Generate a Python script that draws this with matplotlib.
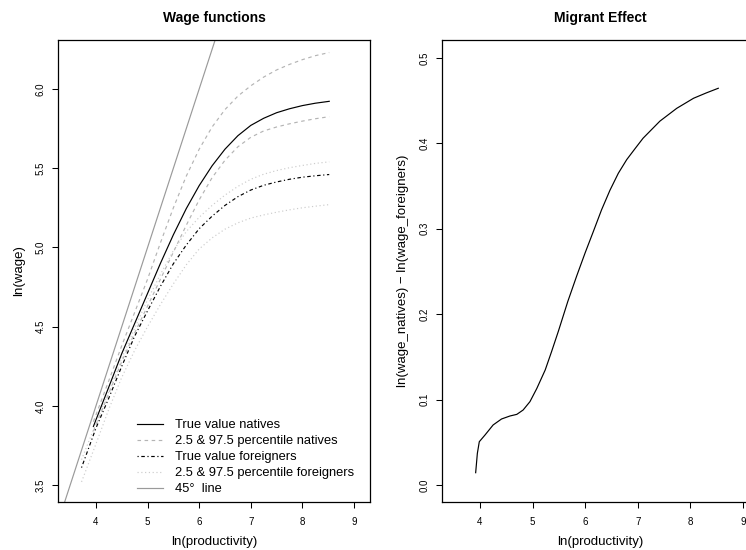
import matplotlib
matplotlib.use("Agg")
import matplotlib.pyplot as plt

plt.rcParams['font.family'] = ['Liberation Sans', 'DejaVu Sans']

# ---------------- data ----------------
x_nat = [3.95, 4.25, 4.5, 4.75, 5.0, 5.25, 5.5, 5.75, 6.0, 6.25, 6.5, 6.75,
         7.0, 7.25, 7.5, 7.75, 8.0, 8.25, 8.52]
nat_true = [3.87, 4.12, 4.33, 4.52, 4.71, 4.90, 5.08, 5.245, 5.39, 5.515, 5.62,
            5.705, 5.77, 5.815, 5.85, 5.875, 5.895, 5.91, 5.922]
nat_hi = [3.90, 4.16, 4.38, 4.59, 4.80, 5.03, 5.25, 5.45, 5.62, 5.76, 5.87,
          5.955, 6.02, 6.075, 6.12, 6.155, 6.185, 6.21, 6.23]
nat_lo = [3.84, 4.08, 4.28, 4.46, 4.63, 4.80, 4.97, 5.14, 5.30, 5.44, 5.55,
          5.635, 5.695, 5.735, 5.76, 5.78, 5.797, 5.812, 5.825]

x_for = [3.72, 4.0, 4.25, 4.5, 4.75, 5.0, 5.25, 5.5, 5.75, 6.0, 6.25, 6.5,
         6.75, 7.0, 7.25, 7.5, 7.75, 8.0, 8.25, 8.52]
for_true = [3.61, 3.86, 4.05, 4.25, 4.44, 4.60, 4.755, 4.897, 5.015, 5.118,
            5.197, 5.265, 5.32, 5.362, 5.392, 5.413, 5.43, 5.443, 5.452, 5.46]
for_hi = [3.66, 3.89, 4.09, 4.30, 4.49, 4.67, 4.83, 4.98, 5.10, 5.19, 5.265,
          5.33, 5.385, 5.43, 5.462, 5.485, 5.503, 5.517, 5.53, 5.54]
for_lo = [3.52, 3.76, 3.98, 4.18, 4.35, 4.50, 4.64, 4.77, 4.89, 4.99, 5.06,
          5.115, 5.155, 5.185, 5.205, 5.222, 5.237, 5.25, 5.26, 5.27]

line45 = [3.0, 10.0]

x_mig = [3.918, 3.95, 3.987, 4.095, 4.25, 4.41, 4.57, 4.70, 4.82, 4.95, 5.08,
         5.24, 5.36, 5.49, 5.67, 5.84, 6.0, 6.15, 6.31, 6.47, 6.63, 6.79,
         6.95, 7.10, 7.42, 7.74, 8.06, 8.30, 8.53]
y_mig = [0.0144, 0.037, 0.0507, 0.0585, 0.0703, 0.0773, 0.0808, 0.0827,
         0.0878, 0.0976, 0.113, 0.1347, 0.156, 0.180, 0.215, 0.245, 0.272,
         0.296, 0.322, 0.345, 0.365, 0.381, 0.394, 0.406, 0.426, 0.441,
         0.4528, 0.459, 0.4645]

x_ticks = [4, 5, 6, 7, 8, 9]
y1_ticks = [3.5, 4.0, 4.5, 5.0, 5.5, 6.0]
y2_ticks = [0.0, 0.1, 0.2, 0.3, 0.4, 0.5]

legend_labels = ["True value natives", "2.5 & 97.5 percentile natives",
                 "True value foreigners", "2.5 & 97.5 percentile foreigners",
                 "45°  line"]

# ---------------- figure ----------------
W, H = 746, 550
fig = plt.figure(figsize=(W / 100, H / 100), dpi=100)
ax1 = fig.add_axes([58 / W, 48 / H, 312 / W, 462 / H])
ax2 = fig.add_axes([442 / W, 48 / H, 317 / W, 462 / H])

lw = 0.85
c_nat = '#b4b4b4'
c_for = '#cccccc'
c_45 = '#9a9a9a'

h1, = ax1.plot(x_nat, nat_true, color='black', lw=lw, ls='-')
h2, = ax1.plot(x_nat, nat_hi, color=c_nat, lw=lw, ls=(0, (3, 3)))
ax1.plot(x_nat, nat_lo, color=c_nat, lw=lw, ls=(0, (3, 3)))
h3, = ax1.plot(x_for, for_true, color='black', lw=lw, ls=(0, (1, 2.2, 3, 2.2)))
h4, = ax1.plot(x_for, for_hi, color=c_for, lw=lw, ls=(0, (1, 2.2)))
ax1.plot(x_for, for_lo, color=c_for, lw=lw, ls=(0, (1, 2.2)))
h5, = ax1.plot(line45, line45, color=c_45, lw=lw, ls='-')

ax1.set_xlim(3.264, 9.31)
ax1.set_ylim(3.393, 6.309)
ax2.set_xlim(3.278, 9.304)
ax2.set_ylim(-0.0199, 0.521)

ax2.plot(x_mig, y_mig, color='black', lw=lw)

for ax, yt in ((ax1, y1_ticks), (ax2, y2_ticks)):
    ax.set_xticks(x_ticks)
    ax.set_xticklabels([str(v) for v in x_ticks])
    ax.set_yticks(yt)
    ax.set_yticklabels([f"{v:.1f}" for v in yt])
    ax.tick_params(direction='out', length=4.5, width=0.75, labelsize=7,
                   color='black')
    ax.tick_params(axis='x', pad=6)
    ax.tick_params(axis='y', pad=4.5, labelrotation=90)
    for lab in ax.get_yticklabels():
        lab.set_va('center')
        lab.set_ha('right')
    for s in ax.spines.values():
        s.set_linewidth(0.9)
        s.set_color('black')

ax1.set_title("Wage functions", fontsize=10, fontweight='bold', pad=13)
ax2.set_title("Migrant Effect", fontsize=10, fontweight='bold', pad=13)
ax1.set_xlabel("ln(productivity)", fontsize=9.5, labelpad=7)
ax2.set_xlabel("ln(productivity)", fontsize=9.5, labelpad=7)
ax1.set_ylabel("ln(wage)", fontsize=9.5, labelpad=7.5)
ax2.set_ylabel("ln(wage_natives) \u2212 ln(wage_foreigners)", fontsize=9.5,
               labelpad=7.5)

ax1.legend([h1, h2, h3, h4, h5], legend_labels, frameon=False, fontsize=9.3,
           loc='lower left', bbox_to_anchor=(0.238, 0.003),
           handlelength=1.95, handletextpad=0.95, labelspacing=0.31,
           borderaxespad=0.0)

fig.savefig("out.png", dpi=100)
